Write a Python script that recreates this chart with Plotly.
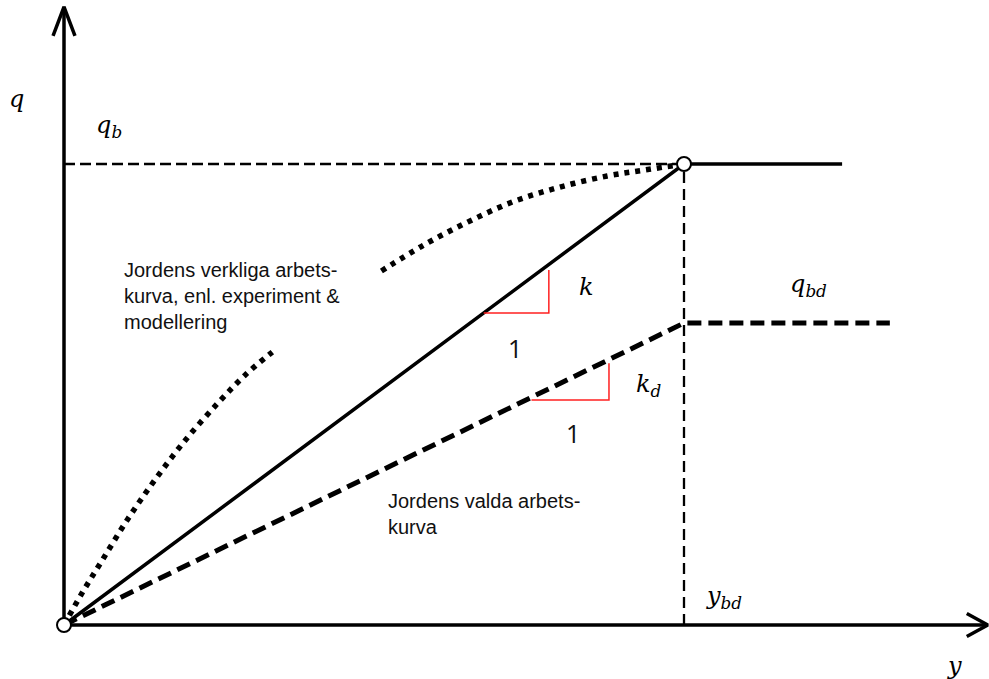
import plotly.graph_objects as go

# Reference quantities (normalised: y_bd = 1, q_b = 1)
y_bd = 1.0
q_b = 1.0
q_bd = 0.655
y_end_actual = 1.255      # end of the ideal plateau
y_end_design = 1.332      # end of the design plateau

# Ideal elastic-plastic curve (slope k)
ideal_y = [0.0, y_bd, y_end_actual]
ideal_q = [0.0, q_b, q_b]

# Chosen design curve (slope k_d)
design_y = [0.0, y_bd, y_end_design]
design_q = [0.0, q_bd, q_bd]

# Measured / modelled work curve, two drawn pieces
real_low_y = [0.0, 0.029, 0.061, 0.103, 0.149, 0.197, 0.250, 0.292, 0.336]
real_low_q = [0.0, 0.069, 0.139, 0.230, 0.319, 0.403, 0.484, 0.542, 0.592]
real_up_y = [0.512, 0.580, 0.651, 0.724, 0.800, 0.876, 0.937, 1.0]
real_up_q = [0.768, 0.824, 0.874, 0.918, 0.950, 0.974, 0.987, 1.0]

# Slope triangles
tri_k_y = [0.677, 0.782, 0.782]
tri_k_q = [0.677, 0.677, 0.770]
tri_kd_y = [0.754, 0.879, 0.879]
tri_kd_q = [0.488, 0.488, 0.568]

# Axes extents
Y_MAX = 1.490
Q_MAX = 1.341

fig = go.Figure()

def line(x, y, width, dash="solid", color="black", shape="linear"):
    fig.add_trace(go.Scatter(x=x, y=y, mode="lines",
                             line=dict(color=color, width=width, dash=dash, shape=shape),
                             hoverinfo="skip", showlegend=False))

# guide lines at q_b and y_bd
line([0, y_bd], [q_b, q_b], 2.3, dash="11px,5px")
line([y_bd, y_bd], [0, q_b], 2.3, dash="11px,6px")

# axes with open arrow heads
line([0, 0], [0, Q_MAX], 3.5)
line([-0.0177, 0, 0.0177], [Q_MAX - 0.0629, Q_MAX, Q_MAX - 0.0629], 3.5)
line([0, Y_MAX], [0, 0], 3.5)
line([Y_MAX - 0.0339, Y_MAX, Y_MAX - 0.0339], [0.0249, 0, -0.0249], 3.5)

# curves
line(real_low_y, real_low_q, 5.5, dash="5px,6px", shape="spline")
line(real_up_y, real_up_q, 5.5, dash="5px,6px", shape="spline")
line(ideal_y, ideal_q, 3.5)
line(design_y, design_q, 5, dash="14px,7px")

# slope triangles
line(tri_k_y, tri_k_q, 1.5, color="#ff2020")
line(tri_kd_y, tri_kd_q, 1.5, color="#ff2020")

# open circles at origin and at (y_bd, q_b)
fig.add_trace(go.Scatter(x=[0, y_bd], y=[0, q_b], mode="markers",
                         marker=dict(size=14, color="white",
                                     line=dict(color="black", width=2)),
                         hoverinfo="skip", showlegend=False))

MATH = dict(family="DejaVu Serif", size=24, color="black")
SANS = dict(family="Liberation Sans", size=20, color="#111111")
ONE = dict(family="Open Sans", size=25, color="#111111")

def label(x, y, text, font, xanchor="center", yanchor="middle", align="center"):
    fig.add_annotation(x=x, y=y, xref="x", yref="y", text=text, showarrow=False,
                       font=font, xanchor=xanchor, yanchor=yanchor, align=align)

label(-0.0774, 1.141, "<i>q</i>", MATH)
label(0.072, 1.081, "<i>q</i><sub><i>b</i></sub>", MATH)
label(0.8435, 0.733, "<i>k</i>", MATH)
label(1.2016, 0.736, "<i>q</i><sub><i>bd</i></sub>", MATH)
label(0.9435, 0.519, "<i>k</i><sub><i>d</i></sub>", MATH)
label(1.0645, 0.060, "<i>y</i><sub><i>bd</i></sub>", MATH)
label(1.437, -0.088, "<i>y</i>", MATH)
label(0.727, 0.600, "1", ONE)
label(0.821, 0.416, "1", ONE)

label(0.0935, (625 - 296) / 461,
      "Jordens verkliga arbets-<br>kurva, enl. experiment &amp;<br>modellering",
      SANS, xanchor="left", align="left")
label(0.519, (625 - 514) / 461,
      "Jordens valda arbets-<br>kurva",
      SANS, xanchor="left", align="left")

fig.update_xaxes(visible=False, range=[-64 / 620, (989 - 64) / 620])
fig.update_yaxes(visible=False, range=[(625 - 679) / 461, 625 / 461])
fig.update_layout(width=989, height=679, margin=dict(l=0, r=0, t=0, b=0),
                  paper_bgcolor="white", plot_bgcolor="white")

fig.write_html("out.html")
